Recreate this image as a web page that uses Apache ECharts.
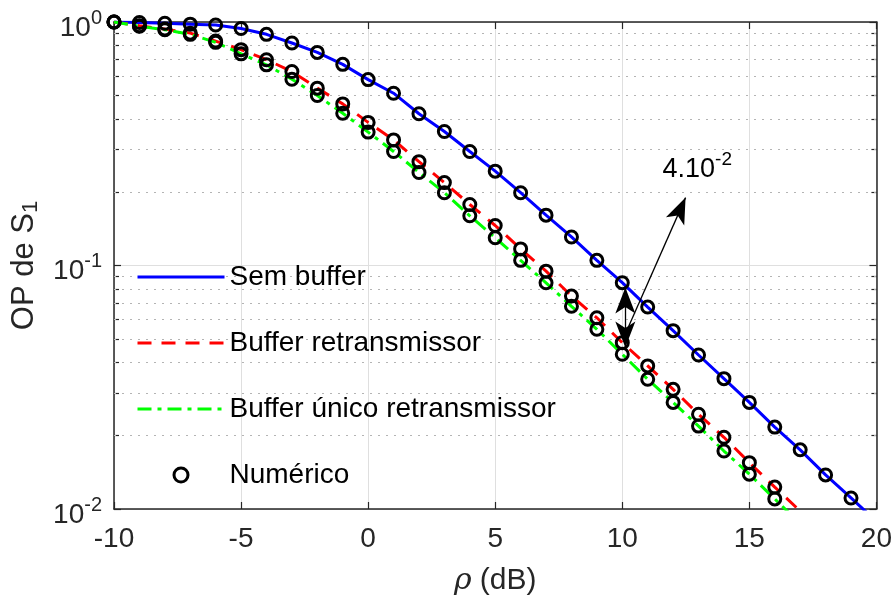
<!DOCTYPE html>
<html>
<head>
<meta charset="utf-8">
<script src="https://cdn.jsdelivr.net/npm/echarts@6/dist/echarts.min.js"></script>
<style>
  html, body { margin: 0; padding: 0; background: #fff; }
  #main { width: 895px; height: 601px; }
</style>
</head>
<body>
<div id="main"></div>
<script>
// rho (dB), one point per dB
var rhoNum = [-10, -9, -8, -7, -6, -5, -4, -3, -2, -1, 0, 1, 2, 3, 4, 5, 6, 7, 8, 9, 10, 11, 12, 13, 14, 15, 16, 17, 18, 19];

// Sem buffer
var semBuffer = [1.0, 0.995, 0.988, 0.98, 0.972, 0.94, 0.89, 0.82, 0.75, 0.67, 0.58, 0.51, 0.42, 0.355, 0.294,
  0.244, 0.199, 0.161, 0.131, 0.105, 0.085, 0.0675, 0.054, 0.0429, 0.0343, 0.0274, 0.0217, 0.0175, 0.0138, 0.0111];
var semBufferEnd = [20, 0.0089];

// Buffer retransmissor
var bufRetrans = [1.0, 0.965, 0.935, 0.90, 0.835, 0.77, 0.70, 0.626, 0.535, 0.461, 0.387, 0.328, 0.267, 0.219, 0.178,
  0.146, 0.117, 0.0948, 0.0749, 0.061, 0.0482, 0.0387, 0.031, 0.0245, 0.0197, 0.0155, 0.0123];
var bufRetransEnd = [17, 0.0098];

// Buffer único retransmissor
var bufUnico = [1.0, 0.96, 0.93, 0.89, 0.825, 0.74, 0.667, 0.582, 0.499, 0.422, 0.353, 0.294, 0.241, 0.199, 0.160,
  0.130, 0.105, 0.0849, 0.068, 0.0547, 0.0432, 0.0341, 0.0274, 0.0219, 0.0173, 0.0139, 0.011];
var bufUnicoEnd = [17, 0.0087];

// minor log grid
var minorTicks = [0.02, 0.03, 0.04, 0.05, 0.06, 0.07, 0.08, 0.09, 0.2, 0.3, 0.4, 0.5, 0.6, 0.7, 0.8, 0.9];

// annotation 4.10^-2
var deltaArrow = [[10.12, 0.0813], [10.12, 0.0461]];
var pointerArrow = [[10.08, 0.0512], [12.49, 0.19]];
var noteAt = [12.95, 0.247];

function pairs(xs, ys) {
  return ys.map(function (v, i) { return [xs[i], v]; });
}

var FONT = 'Liberation Sans, Arial, Helvetica, sans-serif';
var AX = '#262626';
var noSymbol = { color: 'rgba(0,0,0,0)', borderWidth: 0 };

var myChart = echarts.init(document.getElementById('main'));

var xBase = {
  type: 'value', min: -10, max: 20, interval: 5,
  axisLine: { show: true, onZero: false, lineStyle: { color: AX, width: 1.5 } },
  axisTick: { show: true, inside: true, length: 7, lineStyle: { color: AX, width: 1.2 } }
};
var yBase = {
  type: 'log', logBase: 10, min: 0.01, max: 1,
  axisLine: { show: true, onZero: false, lineStyle: { color: AX, width: 1.5 } },
  axisTick: { show: true, inside: true, length: 7, lineStyle: { color: AX, width: 1.2 } }
};

myChart.setOption({
  animation: false,
  backgroundColor: '#fff',
  textStyle: { fontFamily: FONT },
  grid: { left: 114, right: 17, top: 22, bottom: 91, containLabel: false },
  legend: {
    orient: 'vertical',
    left: 136,
    top: 263,
    padding: 0,
    itemWidth: 87,
    itemHeight: 14,
    itemGap: 38,
    lineStyle: { width: 3 },
    textStyle: { fontSize: 28, color: '#000', fontFamily: FONT },
    data: [
      { name: 'Sem buffer', itemStyle: noSymbol },
      { name: 'Buffer retransmissor', itemStyle: noSymbol },
      { name: 'Buffer único retransmissor', itemStyle: noSymbol },
      { name: 'Numérico', itemStyle: { color: 'rgba(0,0,0,0)', borderColor: '#000', borderWidth: 3 } }
    ]
  },
  xAxis: [
    Object.assign({}, xBase, {
      position: 'bottom',
      name: '{i|ρ} (dB)',
      nameLocation: 'middle',
      nameGap: 57,
      nameTextStyle: {
        fontSize: 30, color: AX,
        rich: { i: { fontSize: 30, fontStyle: 'italic', fontFamily: 'DejaVu Serif, serif', color: AX } }
      },
      axisLabel: { fontSize: 28, color: AX, margin: 16 },
      splitLine: { show: true, lineStyle: { color: '#dfdfdf', width: 1 } }
    }),
    Object.assign({}, xBase, {
      position: 'top',
      axisLabel: { show: false },
      splitLine: { show: false }
    })
  ],
  yAxis: [
    Object.assign({}, yBase, {
      position: 'left',
      name: '{n|OP de S}{sub|1}',
      nameLocation: 'middle',
      nameGap: 58,
      nameRotate: 90,
      nameTextStyle: {
        rich: {
          n: { fontSize: 31, color: AX, lineHeight: 36 },
          sub: { fontSize: 22, color: AX, verticalAlign: 'bottom' }
        }
      },
      axisLabel: {
        margin: 12,
        padding: [12, 0, 0, 0],
        formatter: function (v) {
          return '{b|10}{s|' + Math.round(Math.log10(v)) + '}';
        },
        rich: {
          b: { fontSize: 28, lineHeight: 40, color: AX },
          s: { fontSize: 20, verticalAlign: 'top', color: AX }
        }
      },
      splitLine: { show: true, lineStyle: { color: '#dfdfdf', width: 1 } }
    }),
    Object.assign({}, yBase, {
      position: 'left',
      axisLine: { show: false, onZero: false },
      axisLabel: { show: false },
      axisTick: { show: true, inside: true, length: 5, customValues: minorTicks, lineStyle: { color: AX, width: 1.2 } },
      splitLine: { show: false }
    }),
    Object.assign({}, yBase, {
      position: 'right',
      axisLabel: { show: false },
      splitLine: { show: false }
    }),
    Object.assign({}, yBase, {
      position: 'right',
      axisLine: { show: false, onZero: false },
      axisLabel: { show: false },
      axisTick: { show: true, inside: true, length: 5, customValues: minorTicks, lineStyle: { color: AX, width: 1.2 } },
      splitLine: { show: false }
    })
  ],
  series: [
    {
      name: 'Sem buffer',
      type: 'line',
      symbol: 'none',
      clip: true,
      data: pairs(rhoNum, semBuffer).concat([semBufferEnd]),
      lineStyle: { color: '#0000ff', width: 3 },
      itemStyle: { color: '#0000ff' },
      markLine: {
        silent: true,
        z: 6,
        symbol: ['none', 'arrow'],
        symbolSize: [15, 26],
        label: { show: false },
        lineStyle: { color: '#000', width: 1.3, type: 'solid' },
        data: [
          [{ coord: deltaArrow[0], symbol: 'arrow' }, { coord: deltaArrow[1], symbol: 'arrow' }],
          [{ coord: pointerArrow[0], symbol: 'none' }, { coord: pointerArrow[1], symbol: 'arrow' }]
        ]
      },
      markPoint: {
        silent: true,
        data: [{
          coord: noteAt,
          symbol: 'circle',
          symbolSize: 1,
          itemStyle: { color: 'rgba(0,0,0,0)' },
          label: {
            show: true,
            position: 'inside',
            formatter: '{b|4.10}{s|-2}',
            rich: {
              b: { fontSize: 27, lineHeight: 40, color: '#000' },
              s: { fontSize: 19, verticalAlign: 'top', color: '#000' }
            }
          }
        }]
      }
    },
    {
      name: 'Buffer retransmissor',
      type: 'line',
      symbol: 'none',
      clip: true,
      data: pairs(rhoNum, bufRetrans).concat([bufRetransEnd]),
      lineStyle: { color: '#ff0000', width: 3, type: [14, 10] },
      itemStyle: { color: '#ff0000' }
    },
    {
      name: 'Buffer único retransmissor',
      type: 'line',
      symbol: 'none',
      clip: true,
      data: pairs(rhoNum, bufUnico).concat([bufUnicoEnd]),
      lineStyle: { color: '#00ff00', width: 3, type: [14, 6, 4, 6] },
      itemStyle: { color: '#00ff00' },
      markLine: {
        silent: true,
        z: 1,
        symbol: ['none', 'none'],
        label: { show: false },
        lineStyle: { color: '#b4b4b4', width: 1.2, type: [2, 6] },
        data: minorTicks.map(function (v) { return { yAxis: v }; })
      }
    },
    {
      name: 'Numérico',
      type: 'scatter',
      z: 4,
      symbol: 'circle',
      symbolSize: 12,
      data: pairs(rhoNum, semBuffer),
      itemStyle: { color: 'rgba(0,0,0,0)', borderColor: '#000', borderWidth: 3, opacity: 1 }
    },
    {
      name: 'Numérico',
      type: 'scatter',
      z: 4,
      symbol: 'circle',
      symbolSize: 12,
      data: pairs(rhoNum, bufRetrans),
      itemStyle: { color: 'rgba(0,0,0,0)', borderColor: '#000', borderWidth: 3, opacity: 1 }
    },
    {
      name: 'Numérico',
      type: 'scatter',
      z: 4,
      symbol: 'circle',
      symbolSize: 12,
      data: pairs(rhoNum, bufUnico),
      itemStyle: { color: 'rgba(0,0,0,0)', borderColor: '#000', borderWidth: 3, opacity: 1 }
    }
  ]
});

window.addEventListener('resize', function () {
  myChart.resize();
});
</script>
</body>
</html>
